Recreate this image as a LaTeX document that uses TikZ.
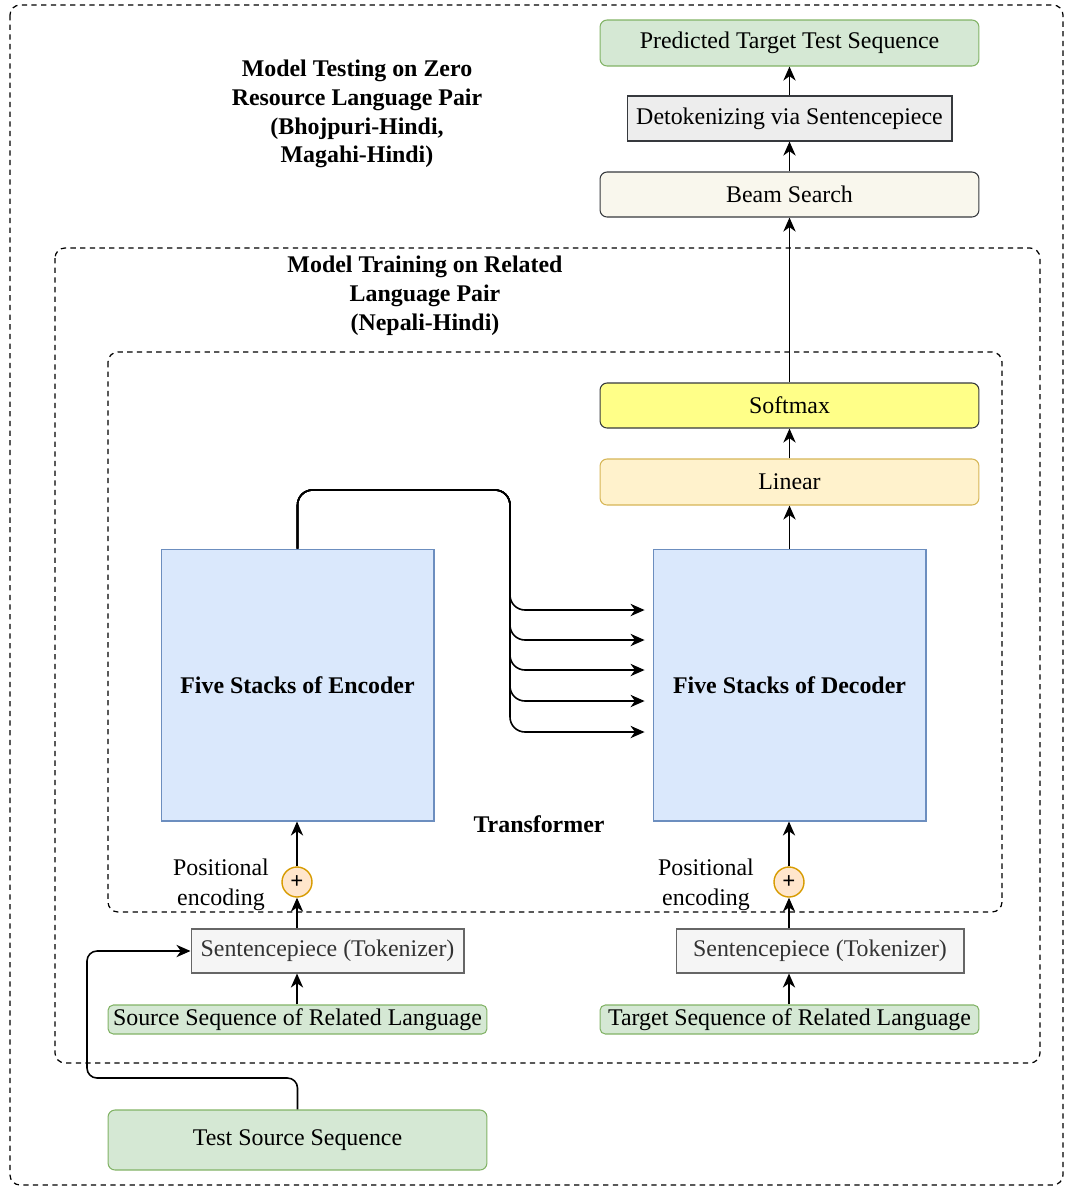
\documentclass[tikz,border=0pt]{standalone}
\usepackage{fontspec}
\setmainfont{Liberation Serif}
\usetikzlibrary{arrows.meta}
\definecolor{greenfill}{HTML}{D5E8D4}
\definecolor{greenline}{HTML}{82B366}
\definecolor{bluefill}{HTML}{DAE8FC}
\definecolor{blueline}{HTML}{6C8EBF}
\definecolor{yellowfill}{HTML}{FFF2CC}
\definecolor{yellowline}{HTML}{D6B656}
\definecolor{softfill}{HTML}{FFFF88}
\definecolor{beamfill}{HTML}{F9F7ED}
\definecolor{darkline}{HTML}{36393D}
\definecolor{greyfill}{HTML}{F5F5F5}
\definecolor{greyline}{HTML}{666666}
\definecolor{greytext}{HTML}{333333}
\definecolor{plusfill}{HTML}{FFE6CC}
\definecolor{plusline}{HTML}{D79B00}
\tikzset{
  box/.style={draw, line width=0.6pt, inner sep=0pt, align=center},
  greenbox/.style={box, fill=greenfill, draw=greenline, rounded corners=4pt},
  tokbox/.style={box, fill=greyfill, draw=greyline, text=greytext, minimum height=0.88cm},
  stackbox/.style={box, fill=bluefill, draw=blueline, minimum width=5.46cm, minimum height=5.44cm, font=\fontsize{13.6}{16.4}\selectfont\bfseries},
  plusnode/.style={circle, draw=plusline, fill=plusfill, line width=0.8pt, minimum size=0.6cm, inner sep=0pt, font=\fontsize{13}{13}\selectfont\bfseries},
  frame/.style={dashed, dash pattern=on 3pt off 2.5pt, line width=0.7pt, rounded corners=0.2cm},
  title/.style={align=center, font=\fontsize{13.6}{16.4}\selectfont\bfseries},
  arr/.style={-{Stealth[length=8pt,width=7pt,inset=2.5pt]}, line width=0.9pt}
}
\begin{document}
\begin{tikzpicture}[x={(0.02cm,0cm)}, y={(0cm,-0.02cm)}, font=\fontsize{13.6}{16.4}\selectfont]
  \useasboundingbox (0,0) rectangle (1065,1188);
  %%%%% START %%%%%
  \draw[frame] (10,5) rectangle (1063,1185);
  \draw[frame] (55,248) rectangle (1040,1063);
  \draw[frame] (108,352) rectangle (1002,912);

  \node[title] (testtitle) at (357,114) {Model Testing on Zero\\Resource Language Pair\\(Bhojpuri-Hindi,\\Magahi-Hindi)};
  \node[title] (traintitle) at (425,296) {Model Training on Related\\Language Pair\\(Nepali-Hindi)};
  \node[title] (transformer) at (539,824) {Transformer};

  % output side
  \node[greenbox, minimum width=7.58cm, minimum height=0.92cm] (pred) at (789.5,43) {Predicted Target Test Sequence};
  \node[box, fill=black!7, draw=darkline, minimum width=6.5cm, minimum height=0.9cm] (detok) at (789.5,118.5) {Detokenizing via Sentencepiece};
  \node[box, fill=beamfill, draw=darkline, rounded corners=4pt, minimum width=7.58cm, minimum height=0.9cm] (beam) at (789.5,194.5) {Beam Search};
  \node[box, fill=softfill, draw=darkline, rounded corners=4pt, minimum width=7.58cm, minimum height=0.9cm] (soft) at (789.5,405.5) {Softmax};
  \node[box, fill=yellowfill, draw=yellowline, rounded corners=4pt, minimum width=7.58cm, minimum height=0.92cm] (lin) at (789.5,482) {Linear};

  % transformer
  \node[stackbox] (enc) at (297.5,685) {Five Stacks of Encoder};
  \node[stackbox] (dec) at (789.5,685) {Five Stacks of Decoder};
  \node[plusnode] (plusL) at (297,882) {+};
  \node[plusnode] (plusR) at (789,882) {+};
  \node[align=center, font=\fontsize{13.6}{17}\selectfont] (posL) at (221,885) {Positional\\encoding};
  \node[align=center, font=\fontsize{13.6}{17}\selectfont] (posR) at (706,885) {Positional\\encoding};

  % inputs
  \node[tokbox, minimum width=5.46cm] (tokL) at (327.5,951) {Sentencepiece (Tokenizer)};
  \node[tokbox, minimum width=5.76cm] (tokR) at (820,951) {Sentencepiece (Tokenizer)};
  \node[greenbox, rounded corners=3pt, minimum width=7.58cm, minimum height=0.58cm] (src) at (297.5,1019.5) {Source Sequence of Related Language};
  \node[greenbox, rounded corners=3pt, minimum width=7.58cm, minimum height=0.58cm] (tgt) at (789.5,1019.5) {Target Sequence of Related Language};
  \node[greenbox, minimum width=7.58cm, minimum height=1.2cm] (test) at (297.5,1140) {Test Source Sequence};

  % connectors
  \draw[arr] (src.north -| plusL) -- (tokL.south -| plusL);
  \draw[arr] (tokL.north -| plusL) -- (plusL);
  \draw[arr] (plusL) -- (enc.south -| plusL);
  \draw[arr] (tgt.north -| plusR) -- (tokR.south -| plusR);
  \draw[arr] (tokR.north -| plusR) -- (plusR);
  \draw[arr] (plusR) -- (dec.south -| plusR);
  \draw[arr] (dec.north -| lin) -- (lin.south);
  \draw[arr] (lin) -- (soft);
  \draw[arr] (soft) -- (beam);
  \draw[arr] (beam) -- (detok);
  \draw[arr] (detok) -- (pred);

  \coordinate (bus) at (510,490);
  \foreach \yy in {610,640,670,701,732}
    \draw[arr, rounded corners=0.3cm, shorten >=4.5pt] (enc.north) |- (bus) |- (dec.west |- 0,\yy);

  \coordinate (loop) at (87,1078);
  \draw[arr, rounded corners=0.2cm] (test.north) |- (loop) |- (tokL.west);
  %%%%% END %%%%%
\end{tikzpicture}
\end{document}
